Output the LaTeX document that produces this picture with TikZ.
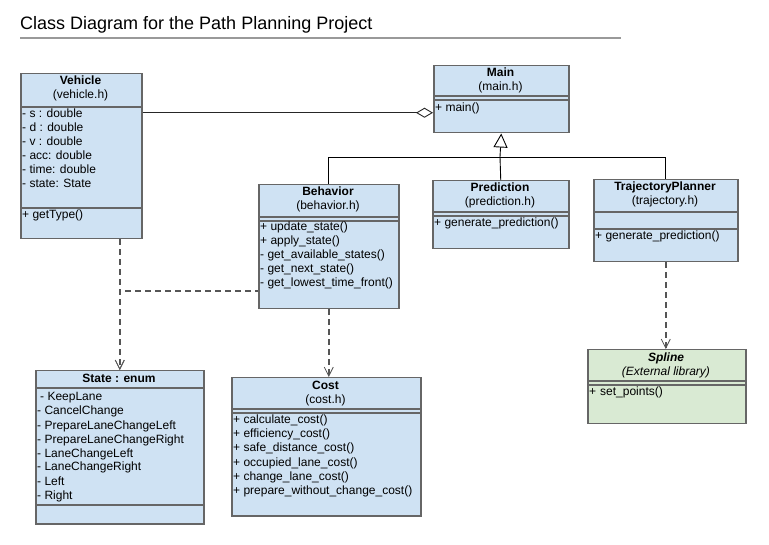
\documentclass[tikz,border=0pt]{standalone}
\usepackage{fontspec}
\setmainfont{Liberation Sans}
\usetikzlibrary{arrows.meta}
\definecolor{clsblue}{HTML}{CFE2F3}
\definecolor{clsgreen}{HTML}{D9EAD3}
\definecolor{bordergray}{HTML}{666666}
\definecolor{depgray}{HTML}{555555}
\definecolor{rulegray}{HTML}{999999}
\newcommand\mlist[4]{\foreach \t [count=\i] in {#4} {\node[mem] (#1\i) at (#2,{#3+14*(\i-1)}) {\t};}}
\begin{document}
\begin{tikzpicture}[x=1pt,y=-1pt,
  box/.style={draw=bordergray, line width=1.5pt, fill=clsblue, inner sep=0, anchor=north west},
  sepline/.style={draw=bordergray, line width=1.5pt},
  mem/.style={font=\fontsize{12}{14}\selectfont, inner sep=0, anchor=base west},
  hdr/.style={font=\fontsize{12}{14}\selectfont, inner sep=0, anchor=base},
  hdrb/.style={hdr, font=\fontsize{12}{14}\selectfont\bfseries},
  dep/.style={draw=depgray, line width=1.6pt, dash pattern=on 6pt off 4pt, -{Straight Barb[length=9pt,width=9pt,line width=0.8pt]}},
  inh/.style={draw=black, line width=0.9pt},
  agg/.style={draw=black!85, line width=0.9pt, -{Diamond[open,length=17pt,width=10pt,line width=0.9pt]}}
]
\useasboundingbox (0,0) rectangle (769,545);
% title
\node[anchor=base west, inner sep=0, font=\fontsize{18}{22}\selectfont] (title) at (20,30) {Class Diagram for the Path Planning Project};
\coordinate (ruleL) at (20,38);
\coordinate (ruleR) at (621,38);
\draw[rulegray, line width=1.6pt] (ruleL) -- (ruleR);

% Vehicle
\node[box, minimum width=121pt, minimum height=165pt] (veh) at (20,73) {};
\draw[sepline] (20,107) -- (141,107);
\draw[sepline] (20,208) -- (141,208);
\node[hdrb] (vehN) at (80.5,85) {Vehicle};
\node[hdr] (vehF) at (80.5,99) {(vehicle.h)};
\mlist{veha}{22}{118}{- s : double,- d : double,- v : double,- acc: double,- time: double,- state: State}
\node[mem] (vehm1) at (22,219) {+ getType()};

% Main
\node[box, minimum width=135pt, minimum height=67pt] (main) at (433,65) {};
\draw[sepline] (433,96) -- (568,96);
\draw[sepline] (433,100) -- (568,100);
\node[hdrb] (mainN) at (500.5,77) {Main};
\node[hdr] (mainF) at (500.5,91) {(main.h)};
\node[mem] (mainm1) at (435,112) {+ main()};

% Behavior
\node[box, minimum width=140pt, minimum height=124pt] (beh) at (258,184) {};
\draw[sepline] (258,217) -- (398,217);
\draw[sepline] (258,221) -- (398,221);
\node[hdrb] (behN) at (328,196) {Behavior};
\node[hdr] (behF) at (328,210) {(behavior.h)};
\mlist{behm}{260}{231}{+ update\_state(),+ apply\_state(),- get\_available\_states(),- get\_next\_state(),- get\_lowest\_time\_front()}

% Prediction
\node[box, minimum width=136pt, minimum height=68pt] (pred) at (432,180) {};
\draw[sepline] (432,212) -- (568,212);
\draw[sepline] (432,216) -- (568,216);
\node[hdrb] (predN) at (500,192) {Prediction};
\node[hdr] (predF) at (500,206) {(prediction.h)};
\node[mem] (predm1) at (434,227) {+ generate\_prediction()};

% TrajectoryPlanner
\node[box, minimum width=144pt, minimum height=82pt] (trj) at (593,179) {};
\draw[sepline] (593,212) -- (737,212);
\draw[sepline] (593,229) -- (737,229);
\node[hdrb] (trjN) at (665,191) {TrajectoryPlanner};
\node[hdr] (trjF) at (665,205) {(trajectory.h)};
\node[mem] (trjm1) at (595,240) {+ generate\_prediction()};

% State
\node[box, minimum width=168pt, minimum height=153pt] (st) at (35,370) {};
\draw[sepline] (35,388) -- (203,388);
\draw[sepline] (35,505) -- (203,505);
\node[hdrb] (stN) at (119,383) {State : enum};
\node[mem] (sta0) at (40,401) {- KeepLane};
\mlist{sta}{37}{415}{- CancelChange,- PrepareLaneChangeLeft,- PrepareLaneChangeRight,- LaneChangeLeft,- LaneChangeRight,- Left,- Right}

% Cost
\node[box, minimum width=189pt, minimum height=138pt] (cost) at (231,377) {};
\draw[sepline] (231,409) -- (420,409);
\draw[sepline] (231,413) -- (420,413);
\node[hdrb] (costN) at (325.5,390) {Cost};
\node[hdr] (costF) at (325.5,404) {(cost.h)};
\mlist{costm}{233}{424}{+ calculate\_cost(),+ efficiency\_cost(),+ safe\_distance\_cost(),+ occupied\_lane\_cost(),+ change\_lane\_cost(),+ prepare\_without\_change\_cost()}

% Spline
\node[box, fill=clsgreen, minimum width=158pt, minimum height=74pt] (spl) at (587,349) {};
\draw[sepline] (587,381) -- (745,381);
\draw[sepline] (587,385) -- (745,385);
\node[hdr, font=\fontsize{12}{14}\selectfont\bfseries\itshape] (splN) at (666,362) {Spline};
\node[hdr, font=\fontsize{12}{14}\selectfont\itshape] (splF) at (666,376) {(External library)};
\node[mem] (splm1) at (589,396) {+\,\,set\_points()};

% aggregation Vehicle -> Main
\coordinate (aggend) at ([yshift=-13.5pt]main.west);
\draw[agg] (aggend -| veh.east) -- (aggend);

% inheritance
\coordinate (junc) at (500,157);
\draw[inh] (beh.north) |- (junc -| trj.north) -- (trj.north);
\draw[inh] (pred.north) -- (junc);
\draw[inh, -{Triangle[open,length=14pt,width=14pt,line width=0.9pt]}] (junc) -- (main.south);

% dependencies
\draw[dep] (veh.south -| st.north) -- (st.north);
\coordinate (bdep) at ([yshift=-44pt]beh.west);
\draw[dep, dash phase=3pt] (bdep) -| (st.north);
\draw[dep] (beh.south) -- (beh.south |- cost.north);
\draw[dep] (trj.south) -- (trj.south |- spl.north);
\end{tikzpicture}
\end{document}
